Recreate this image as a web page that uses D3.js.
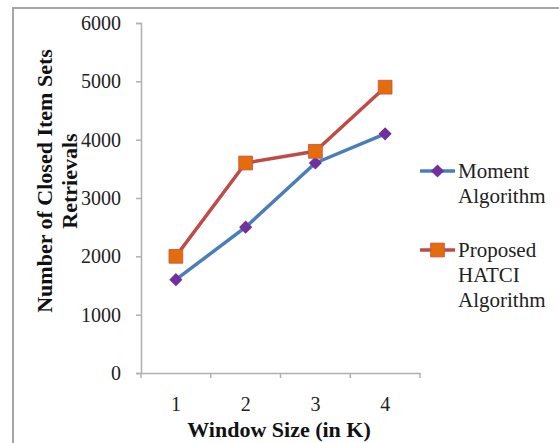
<!DOCTYPE html>
<html>
<head>
<meta charset="utf-8">
<script src="https://cdn.jsdelivr.net/npm/d3@7"></script>
<style>
  body { margin: 0; background: #fff; }
  svg { display: block; }
  svg text { font-family: "Liberation Serif", "Times New Roman", serif; }
</style>
</head>
<body>
<div id="chart"></div>
<script>
const windowSizes = [1, 2, 3, 4];
const momentValues = [1600, 2500, 3600, 4100];
const hatciValues = [2000, 3600, 3800, 4900];
const yTicks = [0, 1000, 2000, 3000, 4000, 5000, 6000];

const width = 559, height = 443;

const svg = d3.select('#chart').append('svg')
    .attr('width', width)
    .attr('height', height);

// outer frame (only top and left edges show)
svg.append('path')
    .attr('d', 'M13,' + height + 'V8H' + width)
    .attr('fill', 'none')
    .attr('stroke', '#a6a6a6')
    .attr('stroke-width', 2);

const x = d3.scaleBand()
    .domain(windowSizes)
    .range([141, 420]);

const y = d3.scaleLinear()
    .domain([0, 6000])
    .range([373, 23]);

const axisColor = '#b0b0b0';

// y axis
const yAxis = svg.append('g')
    .attr('transform', 'translate(141,0)')
    .call(d3.axisLeft(y).tickValues(yTicks).tickSize(5).tickPadding(15).tickFormat(d3.format('d')));
yAxis.select('.domain').attr('stroke', axisColor).attr('stroke-width', 1.5);
yAxis.selectAll('.tick line').attr('stroke', axisColor).attr('stroke-width', 1.5);
yAxis.selectAll('text').style('font-size', '20px').attr('fill', '#222');

// x axis
const xAxis = svg.append('g')
    .attr('transform', 'translate(0,373)')
    .call(d3.axisBottom(x).tickSize(0).tickPadding(24));
xAxis.select('.domain').attr('stroke', axisColor).attr('stroke-width', 1.5);
xAxis.selectAll('text').style('font-size', '20px').attr('fill', '#222');
// tick marks on category boundaries
xAxis.selectAll('.bound')
    .data(windowSizes.concat(['end']))
    .enter().append('line')
    .attr('x1', (d, i) => x.range()[0] + i * x.step())
    .attr('x2', (d, i) => x.range()[0] + i * x.step())
    .attr('y1', 0).attr('y2', 5)
    .attr('stroke', axisColor).attr('stroke-width', 1.5);

// axis titles
svg.append('text')
    .attr('x', 279).attr('y', 437)
    .attr('text-anchor', 'middle')
    .style('font-size', '22px').attr('font-weight', 'bold')
    .attr('fill', '#111')
    .text('Window Size (in K)');

const yTitle = svg.append('text')
    .attr('transform', 'translate(52,181) rotate(-90)')
    .attr('text-anchor', 'middle')
    .style('font-size', '22px').attr('font-weight', 'bold')
    .attr('fill', '#111');
yTitle.append('tspan').attr('x', 0).attr('dy', 0).text('Number of Closed Item Sets');
yTitle.append('tspan').attr('x', 0).attr('dy', 25).text('Retrievals');

// series
const series = [
  { name: ['Moment', 'Algorithm'], values: momentValues, line: '#4a7ebb', marker: '#7030a0', shape: d3.symbolDiamond2, size: 110, ly: 171 },
  { name: ['Proposed', 'HATCI', 'Algorithm'], values: hatciValues, line: '#be4b48', marker: '#e46c0a', shape: d3.symbolSquare, size: 190, ly: 250 }
];

const cx = d => x(d) + x.bandwidth() / 2;

series.forEach(s => {
  const line = d3.line()
      .x((d, i) => cx(windowSizes[i]))
      .y(d => y(d));
  svg.append('path')
      .datum(s.values)
      .attr('fill', 'none')
      .attr('stroke', s.line)
      .attr('stroke-width', 3.5)
      .attr('stroke-linejoin', 'round')
      .attr('d', line);
});

series.forEach(s => {
  svg.append('g').selectAll('path')
      .data(s.values)
      .enter().append('path')
      .attr('transform', (d, i) => 'translate(' + cx(windowSizes[i]) + ',' + y(d) + ')')
      .attr('d', d3.symbol(s.shape, s.size))
      .attr('fill', s.marker)
      .attr('stroke', s.shape === d3.symbolSquare ? '#c0504d' : 'none')
      .attr('stroke-width', 0.8);
});

// legend
series.forEach(s => {
  const g = svg.append('g').attr('transform', 'translate(0,' + s.ly + ')');
  g.append('line')
      .attr('x1', 420).attr('x2', 455)
      .attr('stroke', s.line).attr('stroke-width', 3.5);
  g.append('path')
      .attr('transform', 'translate(437.5,0)')
      .attr('d', d3.symbol(s.shape, s.size))
      .attr('fill', s.marker)
      .attr('stroke', s.shape === d3.symbolSquare ? '#c0504d' : 'none')
      .attr('stroke-width', 0.8);
  const t = g.append('text')
      .attr('x', 458).attr('y', 7)
      .style('font-size', '21px').attr('fill', '#222');
  s.name.forEach((n, i) => {
    t.append('tspan').attr('x', 458).attr('dy', i === 0 ? 0 : 25).text(n);
  });
});
</script>
</body>
</html>
